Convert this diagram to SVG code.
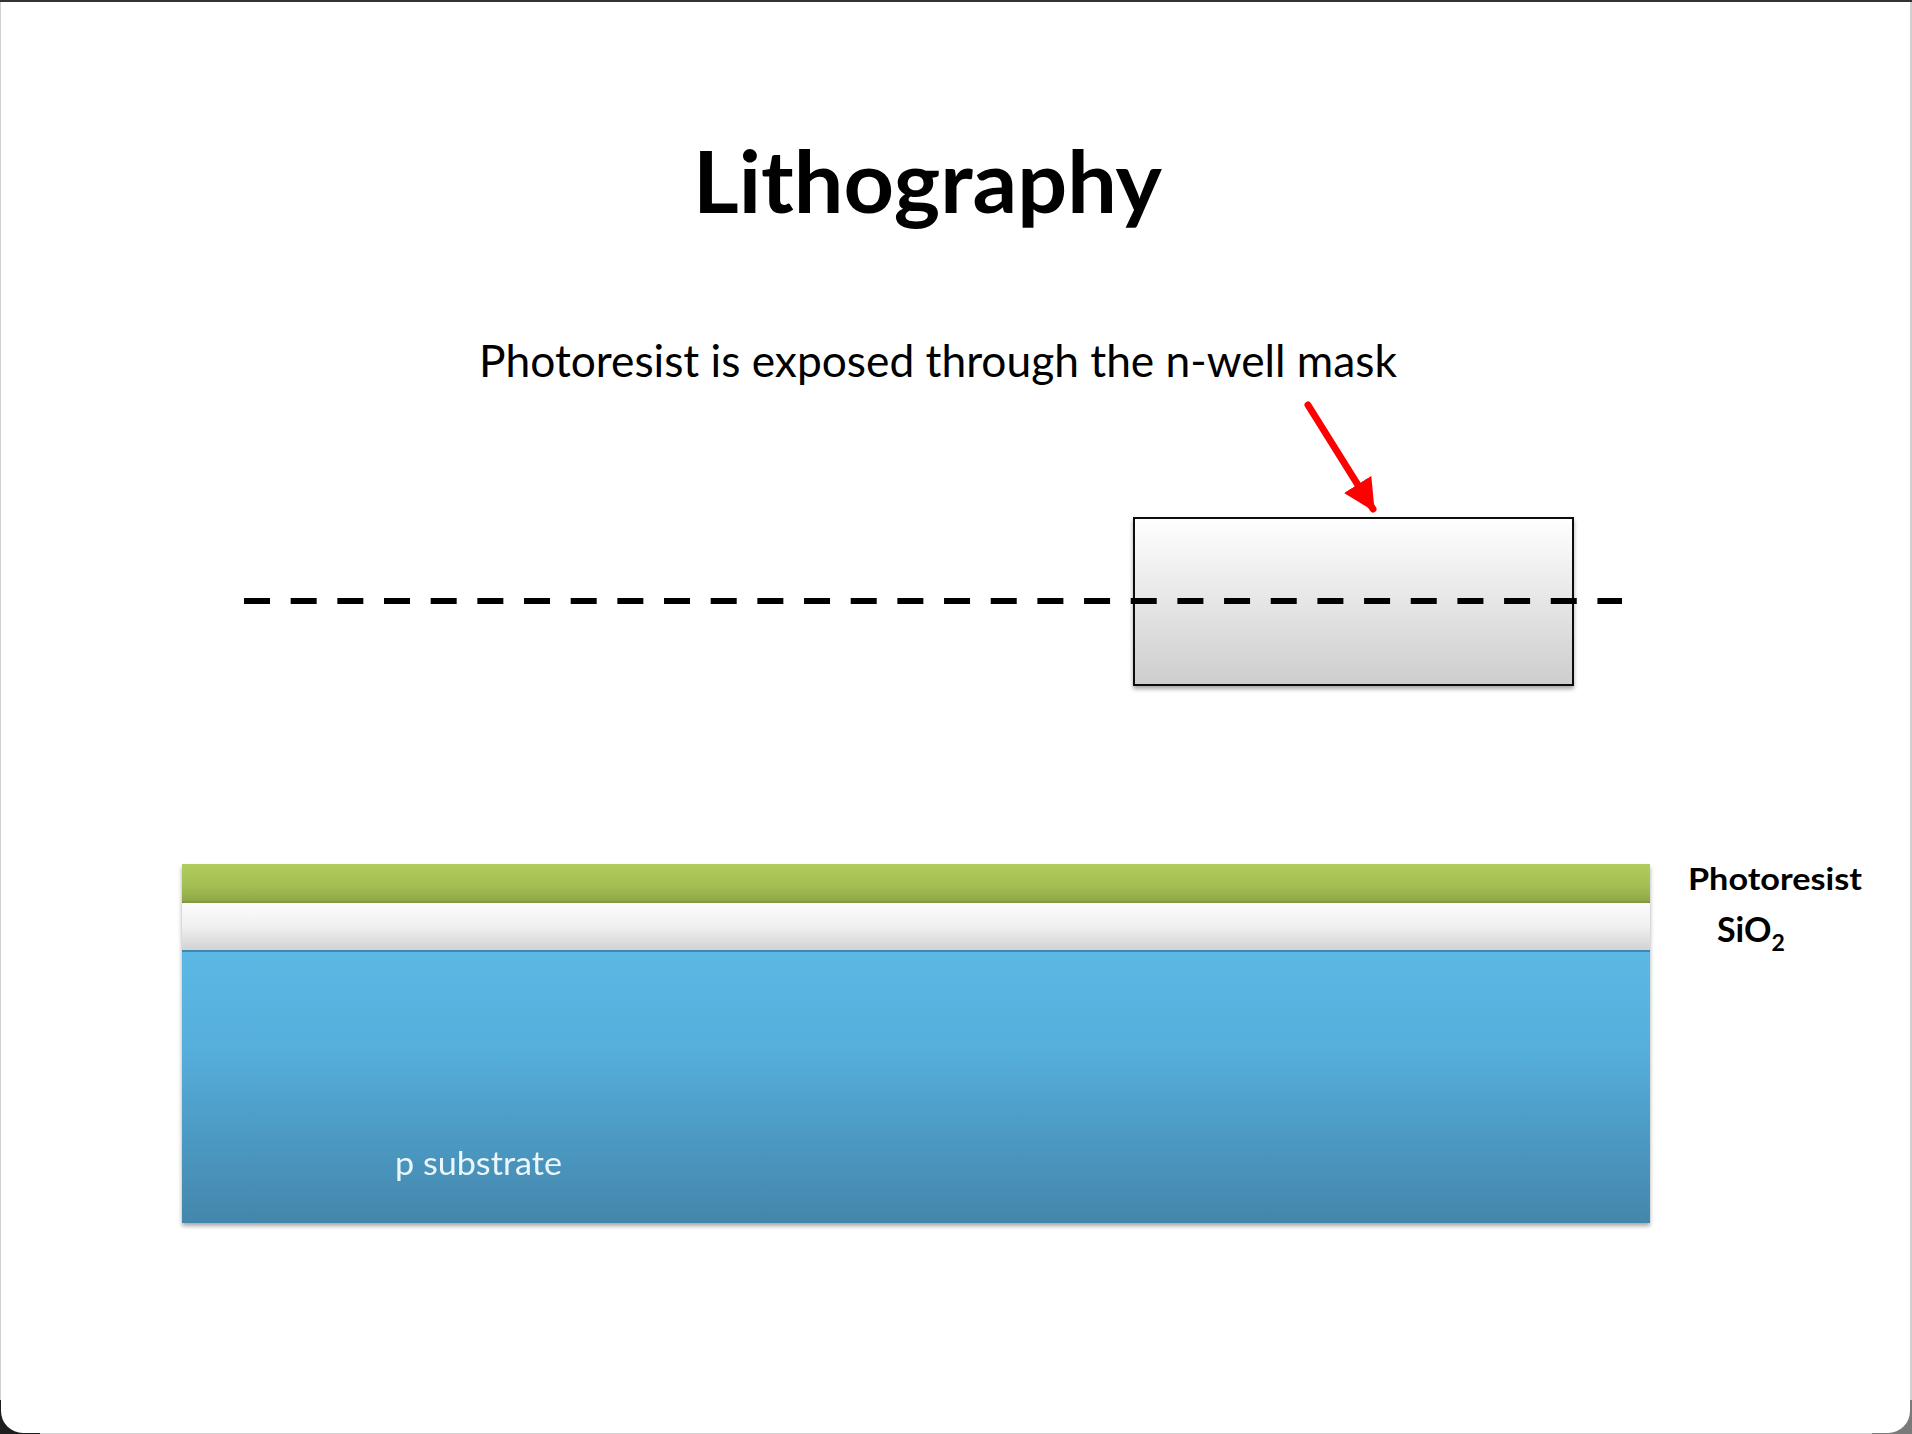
<svg xmlns="http://www.w3.org/2000/svg" width="1912" height="1434" viewBox="0 0 1912 1434">
  <defs>
    <linearGradient id="gMask" x1="0" y1="0" x2="0" y2="1">
      <stop offset="0" stop-color="#ffffff"/>
      <stop offset="1" stop-color="#cdcdcd"/>
    </linearGradient>
    <linearGradient id="gGreen" x1="0" y1="0" x2="0" y2="1">
      <stop offset="0" stop-color="#b2cd5e"/>
      <stop offset="0.6" stop-color="#a2bd52"/>
      <stop offset="1" stop-color="#8ca447"/>
    </linearGradient>
    <linearGradient id="gOxide" x1="0" y1="0" x2="0" y2="1">
      <stop offset="0" stop-color="#fcfcfc"/>
      <stop offset="0.5" stop-color="#f0f0f0"/>
      <stop offset="1" stop-color="#d2d2d2"/>
    </linearGradient>
    <linearGradient id="gBlue" x1="0" y1="0" x2="0" y2="1">
      <stop offset="0" stop-color="#5bb8e4"/>
      <stop offset="0.35" stop-color="#56afdc"/>
      <stop offset="1" stop-color="#4386ac"/>
    </linearGradient>
    <filter id="shadow" x="-5%" y="-10%" width="110%" height="130%">
      <feGaussianBlur in="SourceAlpha" stdDeviation="2"/>
      <feOffset dx="0" dy="3" result="b"/>
      <feComponentTransfer><feFuncA type="linear" slope="0.35"/></feComponentTransfer>
      <feMerge><feMergeNode/><feMergeNode in="SourceGraphic"/></feMerge>
    </filter>
    <marker id="redHead" viewBox="0 0 10 10" refX="9" refY="5" markerWidth="4.6" markerHeight="4.6" markerUnits="strokeWidth" orient="auto">
      <path d="M0,0 L10,5 L0,10 Z" fill="#ff0000"/>
    </marker>
    <style>
      .title { font-family: Lato, "Open Sans", "Liberation Sans", sans-serif; font-weight: 700; fill: #000; }
      .sub { font-family: Lato, "Open Sans", "Liberation Sans", sans-serif; font-weight: 400; fill: #000; }
      .lbl { font-family: Lato, "Open Sans", "Liberation Sans", sans-serif; font-weight: 700; fill: #000; }
      .inner { font-family: Lato, "Open Sans", "Liberation Sans", sans-serif; font-weight: 400; fill: #eaf6fc; }
    </style>
  </defs>

  <!-- frame -->
  <g id="frame">
    <rect x="0" y="0" width="1912" height="1434" fill="#d0d0d0"/>
    <rect x="0" y="1400" width="40" height="34" fill="#1e1e1e"/>
    <rect x="1872" y="1400" width="40" height="34" fill="#7a7a7a"/>
    <path d="M1,2 L1910,2 L1910,1411 A22,22 0 0 1 1888,1433 L23,1433 A22,22 0 0 1 1,1411 Z" fill="#ffffff"/>
    <rect x="0" y="0" width="1912" height="2" fill="#333333"/>
  </g>

  <g id="title">
    <text class="title" x="693" y="213" font-size="86" textLength="469" lengthAdjust="spacingAndGlyphs">Lithography</text>
  </g>

  <g id="caption">
    <text class="sub" x="479" y="377" font-size="44" textLength="918" lengthAdjust="spacingAndGlyphs">Photoresist is exposed through the n-well mask</text>
  </g>

  <g id="mask">
    <rect x="1134" y="518" width="439" height="167" fill="url(#gMask)" stroke="#111" stroke-width="2" filter="url(#shadow)"/>
  </g>

  <g id="focal-line">
    <line x1="244" y1="601" x2="1622" y2="601" stroke="#000" stroke-width="6" stroke-dasharray="26 20.67"/>
  </g>

  <g id="wafer" filter="url(#shadow)">
    <g id="substrate">
      <rect x="182" y="950" width="1468" height="273" fill="url(#gBlue)"/>
      <line x1="182" y1="951" x2="1650" y2="951" stroke="#3f88b2" stroke-width="2"/>
      <text class="inner" x="395" y="1175" font-size="32" textLength="167" lengthAdjust="spacingAndGlyphs">p substrate</text>
    </g>
    <g id="oxide">
      <rect x="182" y="903" width="1468" height="47" fill="url(#gOxide)"/>
    </g>
    <g id="photoresist">
      <rect x="182" y="864" width="1468" height="39" fill="url(#gGreen)"/>
      <line x1="182" y1="902" x2="1650" y2="902" stroke="#84993f" stroke-width="2"/>
    </g>
  </g>

  <g id="labels">
    <text class="lbl" x="1688" y="890" font-size="30" textLength="174" lengthAdjust="spacingAndGlyphs">Photoresist</text>
    <text class="lbl" x="1717" y="942" font-size="34">SiO<tspan font-size="23" dy="9">2</tspan></text>
  </g>

  <g id="connectors">
    <line x1="1308" y1="405" x2="1373" y2="509" stroke="#ff0000" stroke-width="7" stroke-linecap="round" marker-end="url(#redHead)"/>
  </g>
</svg>
